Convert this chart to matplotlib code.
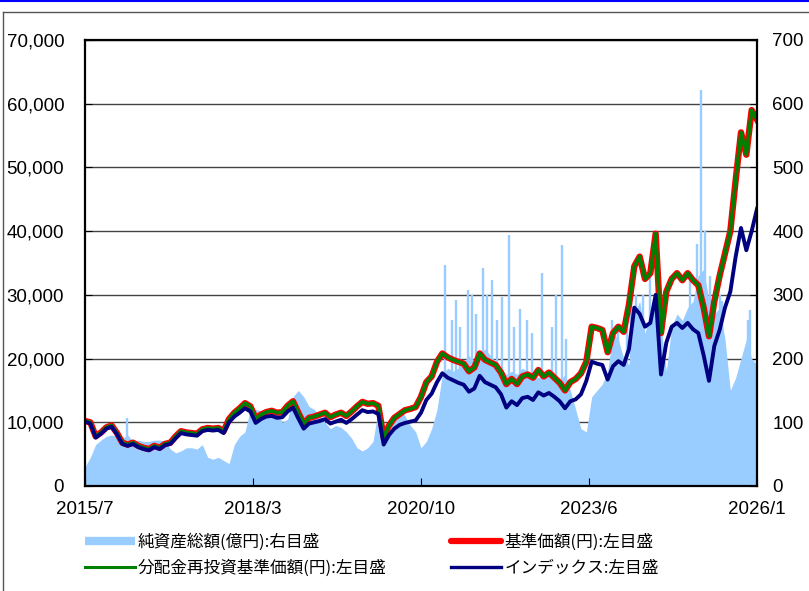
import numpy as np
import matplotlib
matplotlib.use("Agg")
import matplotlib.pyplot as plt
from matplotlib.lines import Line2D
from matplotlib.ticker import FuncFormatter

# month index 0 = 2015/7 ... 126 = 2026/1
x_labels = ["2015/7", "2018/3", "2020/10", "2023/6", "2026/1"]

# 基準価額(円), monthly
base_price = [
    10200, 10000, 7800, 8400, 9200, 9500, 8300, 6800, 6500, 6800,
    6300, 6000, 5800, 6300, 6000, 6600, 6800, 7800, 8600, 8400,
    8300, 8200, 8900, 9100, 9000, 9100, 8600, 10500, 11500, 12200,
    13000, 12500, 10600, 11200, 11600, 11800, 11500, 11600, 12600, 13300,
    11500, 9800, 10700, 10900, 11200, 11500, 10800, 11200, 11500, 11000,
    11700, 12500, 13200, 12900, 13000, 12600, 7600, 9500, 10700, 11300,
    11900, 12100, 12400, 14000, 16300, 17200, 19500, 20800, 20200, 19800,
    19500, 19200, 18000, 18600, 20800, 19800, 19400, 19000, 17800, 16000,
    16800, 16000, 17200, 17500, 17000, 18200, 17200, 17800, 17000, 16200,
    15000, 16300, 16800, 17700, 19500, 25000, 24800, 24500, 21000, 24000,
    25000, 24200, 28500, 34500, 36000, 32500, 33400, 39600, 24000, 30500,
    32500, 33400, 32300, 33400, 32300, 31500, 28000, 23500, 29000, 33000,
    36500, 40000, 48000, 55500, 52000, 59000, 57500,
]
# 分配金再投資基準価額(円): no distributions, so it runs with the base price
reinvest_price = list(base_price)

# インデックス
index_value = [
    10100, 9800, 7600, 8200, 9000, 9300, 8100, 6600, 6300, 6600,
    6100, 5800, 5600, 6100, 5800, 6400, 6600, 7500, 8300, 8100,
    8000, 7900, 8600, 8800, 8700, 8800, 8300, 10000, 10900, 11500,
    12200, 11700, 9900, 10500, 10900, 11000, 10700, 10800, 11700, 12300,
    10600, 9000, 9800, 10000, 10200, 10500, 9800, 10100, 10400, 9900,
    10500, 11200, 11900, 11600, 11700, 11300, 6500, 8000, 9000, 9600,
    9900, 10100, 10300, 11500, 13500, 14500, 16300, 17700, 17000, 16600,
    16200, 15900, 14800, 15300, 17300, 16300, 15900, 15500, 14400, 12300,
    13300, 12700, 13800, 14000, 13500, 14700, 14200, 14600, 14000, 13300,
    12200, 13300, 13600, 14400, 16500, 19500, 19200, 19000, 16700, 18800,
    19600, 19000, 21500, 28000, 27000, 25000, 25600, 30000, 17500, 22500,
    25000, 25600, 24800, 25600, 24600, 24000, 20500, 16500, 22000, 24500,
    28000, 30500, 36000, 40500, 37000, 40000, 43500,
]

# 純資産総額(億円), right axis
net_assets = [
    30, 45, 65, 72, 78, 80, 78, 75, 80, 70,
    72, 70, 70, 72, 72, 70, 58, 52, 55, 60,
    60, 58, 65, 45, 42, 45, 40, 35, 65, 78,
    85, 120, 120, 118, 122, 120, 115, 100, 105, 140,
    150, 140, 125, 120, 110, 100, 90, 95, 92, 85,
    75, 60, 55, 60, 70, 120, 85, 80, 110, 120,
    110, 95, 85, 60, 70, 90, 120, 175, 185, 180,
    185, 195, 205, 190, 205, 215, 205, 195, 185, 175,
    180, 175, 185, 180, 175, 170, 175, 180, 170, 165,
    175, 150, 120, 90, 85, 140, 150, 160, 180, 240,
    230, 200, 190, 270, 290, 240, 270, 300, 250, 180,
    250, 270, 260, 280, 290, 330, 340, 290, 270, 280,
    230, 150, 170, 200, 230, 200, 190,
]
# short-lived peaks in net assets (month, 億円)
spike_months = [7.9, 67.5, 68.8, 69.6, 70.3, 71.8, 72.6, 73.3, 74.6, 75.4,
                76.3, 77.3, 78.2, 79.5, 80.4, 81.6, 82.9, 83.8, 85.6, 87.6,
                88.3, 89.4, 90.2, 98.8, 99.9, 101.6, 102.4, 103.3, 104.7, 105.9,
                106.9, 113.4, 114.7, 115.5, 116.2, 117.2, 119.0, 119.4, 124.3, 124.7]
spike_values = [107, 347, 260, 292, 250, 307, 300, 270, 342, 300,
                323, 260, 296, 394, 250, 278, 260, 240, 334, 250,
                300, 378, 230, 260, 250, 280, 307, 300, 300, 330,
                290, 330, 380, 621, 400, 330, 300, 290, 260, 276]

months = np.arange(len(base_price))

plt.rcParams['font.family'] = ['Liberation Sans', 'Noto Sans CJK JP', 'DejaVu Sans']

fig = plt.figure(figsize=(8.09, 5.91), dpi=100)
ax = fig.add_axes([85 / 809, 1 - 486 / 591, 672 / 809, 446 / 591])
ax2 = ax.twinx()

area_color = '#99CCFF'
ax2.fill_between(months, net_assets, 0, color=area_color, lw=0, zorder=1)
ax2.vlines(spike_months, 0, spike_values, color=area_color, lw=1.7, zorder=1)
ax2.set_ylim(0, 700)
ax2.set_yticks(range(0, 701, 100))
ax2.yaxis.grid(True, color='#444444', lw=1)
ax2.set_axisbelow(True)

ax.set_zorder(ax2.get_zorder() + 1)
ax.patch.set_visible(False)
ax.plot(months, base_price, color='#FF0000', lw=4.6, solid_joinstyle='round')
ax.plot(months, reinvest_price, color='#008000', lw=2.6, solid_joinstyle='round')
ax.plot(months, index_value, color='#000080', lw=2.8, solid_joinstyle='round')

ax.set_xlim(0, 126)
ax.set_ylim(0, 70000)
ax.set_yticks(range(0, 70001, 10000))
ax.yaxis.set_major_formatter(FuncFormatter(lambda v, p: f"{int(v):,}"))
ax.set_xticks(np.linspace(0, 126, len(x_labels)))
ax.set_xticklabels(x_labels)

for s in ax.spines.values():
    s.set_linewidth(1.6)
    s.set_color('black')
for s in ax2.spines.values():
    s.set_visible(False)

ax.tick_params(axis='y', direction='in', length=5, pad=15, labelsize=13.5)
ax.tick_params(axis='x', direction='in', length=6, pad=11, labelsize=13.5)
ax2.tick_params(axis='y', direction='in', length=5, pad=11, labelsize=13.5)

handles = [
    Line2D([], [], color=area_color, lw=6, solid_capstyle='butt'),
    Line2D([], [], color='#008000', lw=2.2),
    Line2D([], [], color='#FF0000', lw=4.5, solid_capstyle='round'),
    Line2D([], [], color='#000080', lw=2.4),
]
labels = ["純資産総額(億円):右目盛", "分配金再投資基準価額(円):左目盛",
          "基準価額(円):左目盛", "インデックス:左目盛"]
fig.legend(handles, labels, ncol=2, frameon=False, loc='upper left',
           bbox_to_anchor=(78 / 809, 1 - 527 / 591),
           prop={'family': ['Noto Sans CJK JP'], 'size': 12},
           handlelength=3.0, handletextpad=0.2, columnspacing=3.85,
           labelspacing=0.5, borderaxespad=0)

# outer frame pieces
fig.add_artist(Line2D([0, 1], [1 - 1 / 591, 1 - 1 / 591], color='#0000FF', lw=1.5))
fig.add_artist(Line2D([3 / 809, 1], [1 - 12 / 591, 1 - 12 / 591], color='#555555', lw=1))
fig.add_artist(Line2D([3 / 809, 3 / 809], [0, 1 - 12 / 591], color='#555555', lw=1))

fig.savefig('out.png', dpi=100)
